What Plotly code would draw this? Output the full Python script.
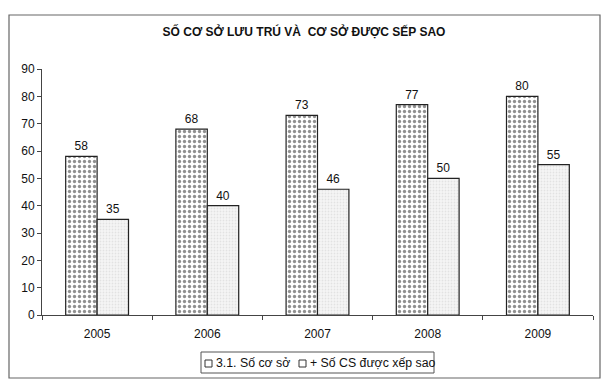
import plotly.graph_objects as go

years = ["2005", "2006", "2007", "2008", "2009"]
so_co_so = [58, 68, 73, 77, 80]
so_cs_xep_sao = [35, 40, 46, 50, 55]
series_names = ["3.1. Số cơ sở", "+ Số CS được xếp sao"]
title_text = "SỐ CƠ SỞ LƯU TRÚ VÀ  CƠ SỞ ĐƯỢC SẾP SAO"

W, H = 609, 386
L, R, T, B = 42, 16, 69, 71
FONT = "Liberation Sans, Arial, sans-serif"

fig = go.Figure()
fig.add_trace(go.Bar(
    x=years, y=so_co_so, name=series_names[0], showlegend=False,
    text=[str(v) for v in so_co_so], textposition="outside", cliponaxis=False,
    textfont=dict(family=FONT, size=12, color="#111"),
    marker=dict(color="white", line=dict(color="#222", width=1.2),
                pattern=dict(shape=".", fgcolor="#222", bgcolor="white", size=5, solidity=0.35)),
))
fig.add_trace(go.Bar(
    x=years, y=so_cs_xep_sao, name=series_names[1], showlegend=False,
    text=[str(v) for v in so_cs_xep_sao], textposition="outside", cliponaxis=False,
    textfont=dict(family=FONT, size=12, color="#111"),
    marker=dict(color="#efefef", line=dict(color="#222", width=1.2),
                pattern=dict(shape=".", fgcolor="#cfcfcf", bgcolor="#f5f5f5", size=3, solidity=0.3)),
))

pw = W - L - R
ph = H - T - B
def px_x(x):
    return (x - L) / pw
def px_y(y):
    return (H - B - y) / ph

shapes = [
    # outer chart border
    dict(type="rect", xref="paper", yref="paper",
         x0=px_x(9), x1=px_x(600), y0=px_y(378), y1=px_y(15),
         line=dict(color="#666", width=1.2), fillcolor="rgba(0,0,0,0)", layer="below"),
    # legend box
    dict(type="rect", xref="paper", yref="paper",
         x0=px_x(201), x1=px_x(434), y0=px_y(373), y1=px_y(352),
         line=dict(color="#555", width=1), fillcolor="white", layer="below"),
]
legend_items = [(205, 214), (299, 308)]
annotations = []
for (sx, tx), name in zip(legend_items, series_names):
    shapes.append(dict(type="rect", xref="paper", yref="paper",
                       x0=px_x(sx), x1=px_x(sx + 7), y0=px_y(367), y1=px_y(360),
                       line=dict(color="#333", width=1), fillcolor="white"))
    annotations.append(dict(text=name, xref="paper", yref="paper",
                            x=px_x(tx), y=px_y(362.5), xanchor="left", yanchor="middle",
                            showarrow=False, font=dict(family=FONT, size=12.3, color="#111")))

fig.update_layout(
    width=W, height=H,
    margin=dict(l=L, r=R, t=T, b=B, autoexpand=False),
    paper_bgcolor="white", plot_bgcolor="white",
    barmode="group", bargap=0.43, bargroupgap=0.0,
    font=dict(family=FONT, size=12, color="#111"),
    title=dict(text="<b>" + title_text + "</b>", x=304 / W, xanchor="center",
               y=1 - 32 / H, yanchor="middle",
               font=dict(family="Liberation Sans Narrow, Arial Narrow, Liberation Sans, sans-serif", size=12, color="#111")),
    showlegend=False,
    xaxis=dict(showline=True, linecolor="#444", linewidth=1, ticks="outside",
               tickson="boundaries", ticklen=4, tickcolor="#444", showgrid=False,
               tickfont=dict(size=12), ticklabelstandoff=8),
    yaxis=dict(range=[0, 90], dtick=10, showline=True, linecolor="#444", linewidth=1,
               ticks="outside", ticklen=4, tickcolor="#444", showgrid=False, zeroline=False,
               tickfont=dict(size=12)),
    shapes=shapes,
    annotations=annotations,
)

fig.write_html("out.html")
